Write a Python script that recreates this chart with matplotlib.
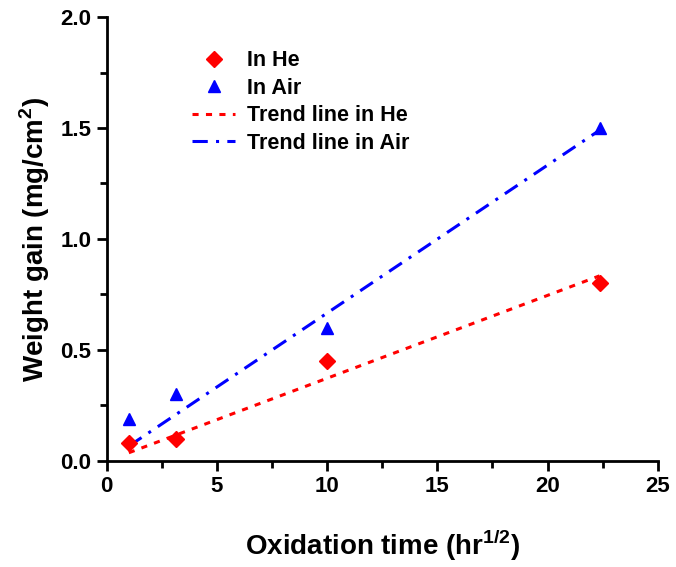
import numpy as np
import matplotlib
matplotlib.use('Agg')
import matplotlib.pyplot as plt

plt.rcParams['font.family'] = ['Liberation Sans', 'DejaVu Sans']
plt.rcParams['font.weight'] = 'bold'
plt.rcParams['mathtext.fontset'] = 'custom'
plt.rcParams['mathtext.rm'] = 'Liberation Sans:bold'
plt.rcParams['mathtext.bf'] = 'Liberation Sans:bold'

# oxidation time in sqrt(hr)
x_time = [1.0, 3.16, 10.0, 22.36]
he_gain = [0.08, 0.10, 0.45, 0.80]
air_gain = [0.19, 0.30, 0.60, 1.50]

# trend line end points
trend_x = [1.0, 22.36]
he_trend = [0.037, 0.834]
air_trend = [0.067, 1.49]

x_ticks = [0, 5, 10, 15, 20, 25]
y_ticks = [0.0, 0.5, 1.0, 1.5, 2.0]

fig = plt.figure(figsize=(6.76, 5.67), dpi=100)
ax = fig.add_axes([0.158, 0.187, 0.815, 0.783])

ax.plot(x_time, he_gain, 'D', color='red', markersize=8, label='In He', zorder=3)
ax.plot(x_time, air_gain, '^', color='blue', markersize=9, label='In Air', zorder=3)
ax.plot(trend_x, he_trend, color='red', lw=2.2, dashes=(2, 2.4), label='Trend line in He')
ax.plot(trend_x, air_trend, color='blue', lw=2.2, dashes=(5, 2.7, 1, 2.7), label='Trend line in Air')

ax.set_xlim(0, 25)
ax.set_ylim(0, 2.0)
ax.set_xticks(x_ticks)
ax.set_yticks(y_ticks)
ax.set_xticks(np.arange(2.5, 25, 5), minor=True)
ax.set_yticks(np.arange(0.25, 2.0, 0.5), minor=True)
ax.set_yticklabels(['%.1f' % v for v in y_ticks])

ax.spines['top'].set_visible(False)
ax.spines['right'].set_visible(False)
for s in ['left', 'bottom']:
    ax.spines[s].set_linewidth(2)
ax.tick_params(which='major', direction='out', length=7, width=2, labelsize=16, pad=4)
ax.tick_params(which='minor', direction='out', length=5, width=2)

ax.set_xlabel(r'Oxidation time (hr$^{1/2}$)', fontsize=20, fontweight='bold', labelpad=22)
ax.set_ylabel(r'Weight gain (mg/cm$^2$)', fontsize=20, fontweight='bold', labelpad=6)

ax.legend(loc='upper left', bbox_to_anchor=(0.12, 0.969), frameon=False,
          fontsize=15.5, handlelength=2.0, labelspacing=0.3, handletextpad=0.55)

fig.savefig('out.png', dpi=100)
